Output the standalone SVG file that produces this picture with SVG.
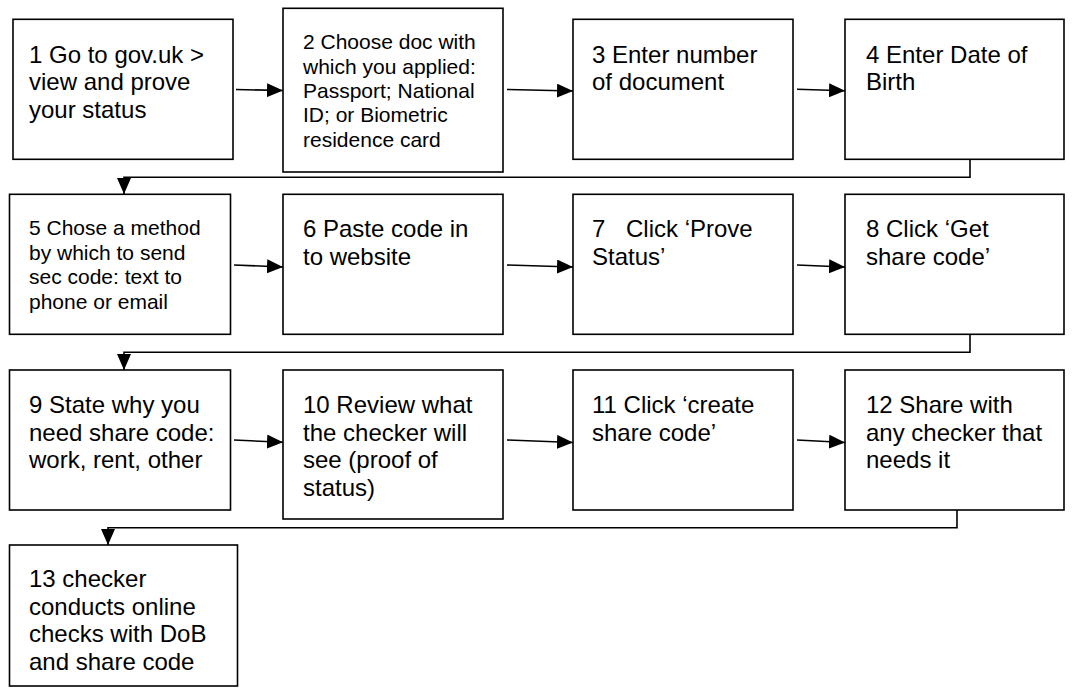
<svg xmlns="http://www.w3.org/2000/svg" width="1074" height="688" viewBox="0 0 1074 688">
<defs>
<style>
.box{fill:#fff;stroke:#000;stroke-width:1.6}
.t24{font-family:"Liberation Sans",Arial,sans-serif;font-size:24px;fill:#000}
.t21{font-family:"Liberation Sans",Arial,sans-serif;font-size:21px;fill:#000}
.con{fill:none;stroke:#000;stroke-width:1.6}
</style>
<marker id="ah" markerUnits="userSpaceOnUse" markerWidth="16" markerHeight="14" refX="16" refY="7" orient="auto">
<path d="M0,0 L16,7 L0,14 z" fill="#000"/>
</marker>
</defs>
<rect width="1074" height="688" fill="#fff"/>
<g id="connectors">
<line class="con" x1="236" y1="89.5" x2="283" y2="90.5" marker-end="url(#ah)"/>
<line class="con" x1="507" y1="89.5" x2="573" y2="91" marker-end="url(#ah)"/>
<line class="con" x1="797" y1="89.3" x2="845" y2="90.7" marker-end="url(#ah)"/>
<polyline class="con" points="970,159.3 970,177.3 124,177.3 124,194" marker-end="url(#ah)"/>
<line class="con" x1="234" y1="265" x2="283" y2="267" marker-end="url(#ah)"/>
<line class="con" x1="507" y1="265" x2="573" y2="267" marker-end="url(#ah)"/>
<line class="con" x1="797" y1="265" x2="845" y2="267" marker-end="url(#ah)"/>
<polyline class="con" points="970,334.3 970,352.3 124,352.3 124,370" marker-end="url(#ah)"/>
<line class="con" x1="234" y1="440" x2="283" y2="442.3" marker-end="url(#ah)"/>
<line class="con" x1="507" y1="440" x2="573" y2="442.5" marker-end="url(#ah)"/>
<line class="con" x1="797" y1="440" x2="845" y2="442.5" marker-end="url(#ah)"/>
<polyline class="con" points="957,510 957,527.7 108,527.7 108,545" marker-end="url(#ah)"/>
</g>
<g id="n1"><rect class="box" x="13" y="19.3" width="220" height="140"/>
<text class="t24"><tspan x="29" y="62.5">1 Go to gov.uk &gt;</tspan><tspan x="29" y="90.1">view and prove</tspan><tspan x="29" y="117.7">your status</tspan></text></g>
<g id="n2"><rect class="box" x="283" y="8.3" width="220" height="163.7"/>
<text class="t21"><tspan x="303" y="49.3">2 Choose doc with</tspan><tspan x="303" y="73.6">which you applied:</tspan><tspan x="303" y="97.9">Passport; National</tspan><tspan x="303" y="122.2">ID; or Biometric</tspan><tspan x="303" y="146.5">residence card</tspan></text></g>
<g id="n3"><rect class="box" x="573" y="19.3" width="220" height="140"/>
<text class="t24"><tspan x="592" y="62.5">3 Enter number</tspan><tspan x="592" y="90.1">of document</tspan></text></g>
<g id="n4"><rect class="box" x="845" y="19.3" width="219" height="140"/>
<text class="t24"><tspan x="866" y="62.5">4 Enter Date of</tspan><tspan x="866" y="90.1">Birth</tspan></text></g>
<g id="n5"><rect class="box" x="9.5" y="194.3" width="221" height="140"/>
<text class="t21"><tspan x="29" y="235">5 Chose a method</tspan><tspan x="29" y="259.5">by which to send</tspan><tspan x="29" y="284">sec code: text to</tspan><tspan x="29" y="308.5">phone or email</tspan></text></g>
<g id="n6"><rect class="box" x="283" y="194.3" width="220" height="140"/>
<text class="t24"><tspan x="303" y="237">6 Paste code in</tspan><tspan x="303" y="264.6">to website</tspan></text></g>
<g id="n7"><rect class="box" x="573" y="194.3" width="220" height="140"/>
<text class="t24"><tspan x="592" y="237">7</tspan><tspan x="626" y="237">Click ‘Prove</tspan><tspan x="592" y="264.6">Status’</tspan></text></g>
<g id="n8"><rect class="box" x="845" y="194.3" width="219" height="140"/>
<text class="t24"><tspan x="866" y="237">8 Click ‘Get</tspan><tspan x="866" y="264.6">share code’</tspan></text></g>
<g id="n9"><rect class="box" x="9.5" y="370" width="221" height="140"/>
<text class="t24"><tspan x="29" y="413">9 State why you</tspan><tspan x="29" y="440.6">need share code:</tspan><tspan x="29" y="468.2">work, rent, other</tspan></text></g>
<g id="n10"><rect class="box" x="283" y="370" width="220" height="149"/>
<text class="t24"><tspan x="303" y="413">10 Review what</tspan><tspan x="303" y="440.6">the checker will</tspan><tspan x="303" y="468.2">see (proof of</tspan><tspan x="303" y="495.8">status)</tspan></text></g>
<g id="n11"><rect class="box" x="573" y="370" width="220" height="140"/>
<text class="t24"><tspan x="592" y="413">11 Click ‘create</tspan><tspan x="592" y="440.6">share code’</tspan></text></g>
<g id="n12"><rect class="box" x="845" y="370" width="219" height="140"/>
<text class="t24"><tspan x="866" y="413">12 Share with</tspan><tspan x="866" y="440.6">any checker that</tspan><tspan x="866" y="468.2">needs it</tspan></text></g>
<g id="n13"><rect class="box" x="9.5" y="545" width="228" height="141"/>
<text class="t24"><tspan x="29" y="587">13 checker</tspan><tspan x="29" y="614.6">conducts online</tspan><tspan x="29" y="642.2">checks with DoB</tspan><tspan x="29" y="669.8">and share code</tspan></text></g>
</svg>
